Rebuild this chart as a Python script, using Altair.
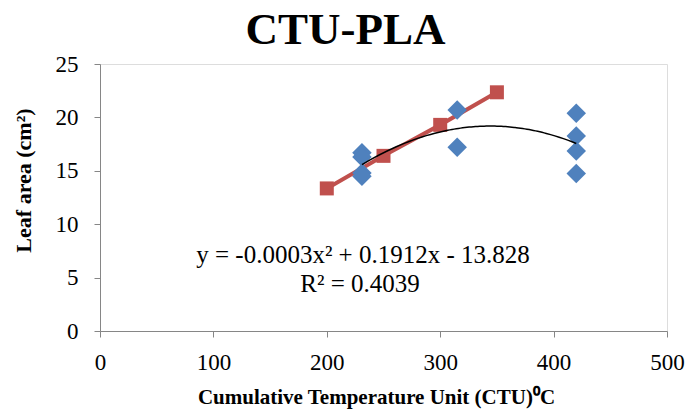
import altair as alt
import pandas as pd

# Leaf area (cm²) observed against cumulative temperature units
blue_ctu = [231, 231, 231, 231, 315, 315, 420, 420, 420, 420]
blue_la = [16.7, 16.3, 14.8, 14.5, 20.7, 17.2, 20.4, 18.25, 16.85, 14.75]

# Second series, joined by a straight line
red_ctu = [200, 250, 300, 350]
red_la = [13.35, 16.4, 19.3, 22.35]

x_ticks = [0, 100, 200, 300, 400, 500]
y_ticks = [0, 5, 10, 15, 20, 25]

equation = "y = -0.0003x² + 0.1912x - 13.828"
r_squared = "R² = 0.4039"

FONT = "Liberation Serif"
AXIS_GREY = "#868686"
BLUE = "#4F81BD"
RED = "#C0504D"

blue_df = pd.DataFrame({"CTU": blue_ctu, "LA": blue_la})
red_df = pd.DataFrame({"CTU": red_ctu, "LA": red_la})

x_enc = alt.X(
    "CTU:Q",
    scale=alt.Scale(domain=[0, 500], nice=False, zero=False),
    axis=alt.Axis(
        values=x_ticks,
        grid=False,
        title="Cumulative Temperature  Unit (CTU)⁰C",
        titleFont=FONT,
        titleFontSize=21,
        titleFontWeight="bold",
        titleColor="black",
        titleX=276,
        titleY=66,
        titleAlign="center",
        titleBaseline="middle",
        labelFont=FONT,
        labelFontSize=23,
        labelColor="black",
        labelPadding=14,
        labelFlush=False,
        domainColor=AXIS_GREY,
        tickColor=AXIS_GREY,
        tickSize=6,
    ),
)
y_enc = alt.Y(
    "LA:Q",
    scale=alt.Scale(domain=[0, 25], nice=False),
    axis=alt.Axis(
        values=y_ticks,
        grid=False,
        title="Leaf area (cm²)",
        titleFont=FONT,
        titleFontSize=22,
        titleFontWeight="bold",
        titleColor="black",
        titleAngle=270,
        titleX=-77,
        titleY=116,
        titleAlign="center",
        titleBaseline="middle",
        labelFont=FONT,
        labelFontSize=23,
        labelColor="black",
        labelPadding=16,
        labelFlush=False,
        domainColor=AXIS_GREY,
        tickColor=AXIS_GREY,
        tickSize=6,
    ),
)

red_line = alt.Chart(red_df).mark_line(color=RED, strokeWidth=4).encode(x=x_enc, y=y_enc)
red_pts = alt.Chart(red_df).mark_point(
    shape="square", filled=True, color=RED, opacity=1, size=196
).encode(x="CTU:Q", y="LA:Q")
blue_pts = alt.Chart(blue_df).mark_point(
    shape="diamond", filled=True, color=BLUE, opacity=1, size=380
).encode(x="CTU:Q", y="LA:Q")

# Second-order polynomial trend through the first series
trend = (
    alt.Chart(blue_df)
    .transform_regression("CTU", "LA", method="poly", order=2, extent=[231, 420])
    .mark_line(color="black", strokeWidth=1.5)
    .encode(x="CTU:Q", y="LA:Q")
)

eq_text = alt.Chart(pd.DataFrame({"t": [equation]})).mark_text(
    font=FONT, fontSize=25, color="black", align="center", baseline="alphabetic"
).encode(text="t:N", x=alt.value(263), y=alt.value(199))
r2_text = alt.Chart(pd.DataFrame({"t": [r_squared]})).mark_text(
    font=FONT, fontSize=25, color="black", align="center", baseline="alphabetic"
).encode(text="t:N", x=alt.value(260), y=alt.value(228))

chart = (
    alt.layer(red_line, red_pts, blue_pts, trend, eq_text, r2_text)
    .properties(
        width=567,
        height=267,
        autosize=alt.AutoSizeParams(type="none"),
        padding={"left": 100, "top": 64, "right": 24, "bottom": 81},
        title=alt.TitleParams(
            "CTU-PLA",
            font=FONT,
            fontSize=45,
            fontWeight="bold",
            color="black",
            anchor="middle",
            dx=-38,
            dy=8,
            offset=8,
        ),
    )
    .configure_view(stroke=None)
    .configure(background="white")
)

chart.save("out.html", embed_options={"renderer": "svg", "actions": False})
